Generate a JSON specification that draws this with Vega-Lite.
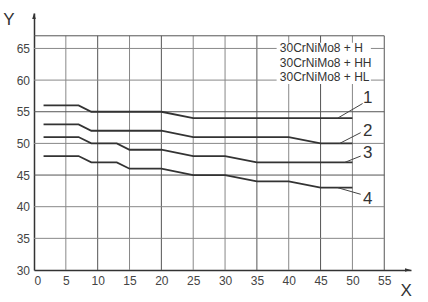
{
  "$schema": "https://vega.github.io/schema/vega-lite/v6.json",
  "width": 377,
  "height": 257,
  "autosize": {"type": "none"},
  "padding": {"left": 34, "top": 13, "right": 17, "bottom": 32},
  "background": "white",
  "config": {
    "view": {"stroke": null},
    "font": "Liberation Sans",
    "axis": {"grid": false, "ticks": false, "labelOverlap": false, "labelFont": "Liberation Sans", "labelFontSize": 12, "labelColor": "#444", "domainColor": "#333", "domainWidth": 1.5, "titleFont": "Liberation Sans", "titleFontSize": 17, "titleFontWeight": "normal", "titleColor": "#333"}
  },
  "datasets": {
    "curves": [
      {"curve": "1", "x": 1.5, "y": 56}, {"curve": "1", "x": 7, "y": 56}, {"curve": "1", "x": 9, "y": 55}, {"curve": "1", "x": 20, "y": 55}, {"curve": "1", "x": 25, "y": 54}, {"curve": "1", "x": 50, "y": 54},
      {"curve": "2", "x": 1.5, "y": 53}, {"curve": "2", "x": 7, "y": 53}, {"curve": "2", "x": 9, "y": 52}, {"curve": "2", "x": 20, "y": 52}, {"curve": "2", "x": 25, "y": 51}, {"curve": "2", "x": 40, "y": 51}, {"curve": "2", "x": 45, "y": 50}, {"curve": "2", "x": 50, "y": 50},
      {"curve": "3", "x": 1.5, "y": 51}, {"curve": "3", "x": 7, "y": 51}, {"curve": "3", "x": 9, "y": 50}, {"curve": "3", "x": 13, "y": 50}, {"curve": "3", "x": 15, "y": 49}, {"curve": "3", "x": 20, "y": 49}, {"curve": "3", "x": 25, "y": 48}, {"curve": "3", "x": 30, "y": 48}, {"curve": "3", "x": 35, "y": 47}, {"curve": "3", "x": 50, "y": 47},
      {"curve": "4", "x": 1.5, "y": 48}, {"curve": "4", "x": 7, "y": 48}, {"curve": "4", "x": 9, "y": 47}, {"curve": "4", "x": 13, "y": 47}, {"curve": "4", "x": 15, "y": 46}, {"curve": "4", "x": 20, "y": 46}, {"curve": "4", "x": 25, "y": 45}, {"curve": "4", "x": 30, "y": 45}, {"curve": "4", "x": 35, "y": 44}, {"curve": "4", "x": 40, "y": 44}, {"curve": "4", "x": 45, "y": 43}, {"curve": "4", "x": 50, "y": 43}
    ],
    "leaders": [
      {"curve": "1", "x": 47.7, "y": 54, "x2": 51.6, "y2": 56.3, "lx": 52.4, "ly": 57.1},
      {"curve": "2", "x": 48, "y": 50, "x2": 51.3, "y2": 51.7, "lx": 52.4, "ly": 51.9},
      {"curve": "3", "x": 48.8, "y": 47, "x2": 51.3, "y2": 48.0, "lx": 52.4, "ly": 48.5},
      {"curve": "4", "x": 47.7, "y": 43, "x2": 51.3, "y2": 41.96, "lx": 52.4, "ly": 41.2}
    ],
    "vminor": [{"x": 5}, {"x": 15}, {"x": 25}, {"x": 30}, {"x": 40}, {"x": 50}],
    "vmajor": [{"x": 10}, {"x": 20}, {"x": 35}, {"x": 45}, {"x": 55}],
    "hminor": [{"y": 35}, {"y": 40}, {"y": 50}, {"y": 60}, {"y": 65}],
    "hmajor": [{"y": 45}, {"y": 55}, {"y": 67}],
    "legend": [
      {"text": "30CrNiMo8 + H", "x": 38.6, "y": 65},
      {"text": "30CrNiMo8 + HH", "x": 38.6, "y": 62.75},
      {"text": "30CrNiMo8 + HL", "x": 38.6, "y": 60.45}
    ]
  },
  "layer": [
    {
      "data": {"name": "vminor"},
      "mark": {"type": "rule", "color": "#888", "strokeWidth": 1},
      "encoding": {
        "x": {"field": "x", "type": "quantitative", "scale": {"domain": [0, 59.2], "nice": false, "zero": false},
              "axis": {"values": [0, 5, 10, 15, 20, 25, 30, 35, 40, 45, 50, 55], "tickCount": 12, "labelOverlap": false, "labelSeparation": 0, "labelPadding": 5, "title": "X", "titleAngle": 0, "titleX": 371.7, "titleY": 20, "titleAlign": "center", "titleBaseline": "middle"}},
        "y": {"datum": 30, "type": "quantitative", "scale": {"domain": [30, 70.6], "nice": false, "zero": false},
              "axis": {"values": [30, 35, 40, 45, 50, 55, 60, 65], "tickCount": 9, "labelOverlap": false, "labelSeparation": 0, "labelPadding": 4.5, "title": "Y", "titleAngle": 0, "titleX": -25.7, "titleY": 6, "titleAlign": "center", "titleBaseline": "middle"}},
        "y2": {"datum": 67}
      }
    },
    {
      "data": {"name": "vmajor"},
      "mark": {"type": "rule", "color": "#555", "strokeWidth": 1},
      "encoding": {"x": {"field": "x", "type": "quantitative"}, "y": {"datum": 30, "type": "quantitative"}, "y2": {"datum": 67}}
    },
    {
      "data": {"name": "hminor"},
      "mark": {"type": "rule", "color": "#888", "strokeWidth": 1},
      "encoding": {"y": {"field": "y", "type": "quantitative"}, "x": {"datum": 0, "type": "quantitative"}, "x2": {"datum": 55}}
    },
    {
      "data": {"name": "hmajor"},
      "mark": {"type": "rule", "color": "#555", "strokeWidth": 1},
      "encoding": {"y": {"field": "y", "type": "quantitative"}, "x": {"datum": 0, "type": "quantitative"}, "x2": {"datum": 55}}
    },
    {
      "data": {"values": [{"box": "legend"}]},
      "mark": {"type": "rect", "color": "white"},
      "encoding": {"x": {"datum": 38.1, "type": "quantitative"}, "x2": {"datum": 52.9}, "y": {"datum": 59.4, "type": "quantitative"}, "y2": {"datum": 65.9}}
    },
    {
      "data": {"name": "legend"},
      "mark": {"type": "text", "align": "left", "baseline": "middle", "fontSize": 12, "color": "#333", "font": "Liberation Sans"},
      "encoding": {"x": {"field": "x", "type": "quantitative"}, "y": {"field": "y", "type": "quantitative"}, "text": {"field": "text"}}
    },
    {
      "data": {"name": "curves"},
      "mark": {"type": "line", "color": "#333", "strokeWidth": 1.8},
      "encoding": {"x": {"field": "x", "type": "quantitative"}, "y": {"field": "y", "type": "quantitative"}, "detail": {"field": "curve"}}
    },
    {
      "data": {"name": "leaders"},
      "mark": {"type": "rule", "color": "#444", "strokeWidth": 1},
      "encoding": {"x": {"field": "x", "type": "quantitative"}, "y": {"field": "y", "type": "quantitative"}, "x2": {"field": "x2"}, "y2": {"field": "y2"}}
    },
    {
      "data": {"name": "leaders"},
      "mark": {"type": "text", "align": "center", "baseline": "middle", "fontSize": 17, "color": "#333", "font": "Liberation Sans"},
      "encoding": {"x": {"field": "lx", "type": "quantitative"}, "y": {"field": "ly", "type": "quantitative"}, "text": {"field": "curve"}}
    },
    {
      "data": {"values": [{"arrow": "y"}]},
      "mark": {"type": "point", "filled": true, "color": "#333", "opacity": 1, "size": 36, "shape": "M0,0L-0.6,2L0.6,2Z"},
      "encoding": {"x": {"datum": 0, "type": "quantitative"}, "y": {"datum": 70.6, "type": "quantitative"}}
    },
    {
      "data": {"values": [{"arrow": "x"}]},
      "mark": {"type": "point", "filled": true, "color": "#333", "opacity": 1, "size": 36, "shape": "M0,0L-2,-0.6L-2,0.6Z"},
      "encoding": {"x": {"datum": 59.2, "type": "quantitative"}, "y": {"datum": 30, "type": "quantitative"}}
    }
  ]
}
